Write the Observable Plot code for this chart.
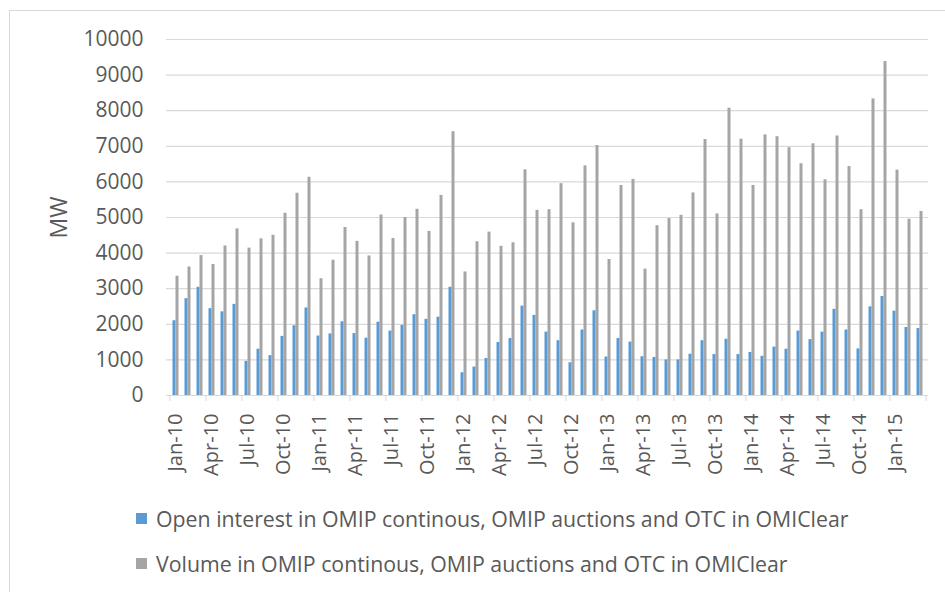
<!DOCTYPE html>
<html><head><meta charset="utf-8">
<script src="https://cdn.jsdelivr.net/npm/d3@7"></script>
<script src="https://cdn.jsdelivr.net/npm/@observablehq/plot@0.6"></script>
<style>
html,body{margin:0;padding:0;background:#fff;overflow:hidden;width:945px;height:592px;}
#frame{position:absolute;left:9px;top:10px;width:960px;height:620px;border:1px solid #d9d9d9;box-sizing:border-box}
#chart{position:absolute;left:0;top:0}
#legend{position:absolute;left:136px;top:496px;font-family:"Open Sans",sans-serif;font-size:21.3px;color:#595959}
.item{display:flex;align-items:center;height:45px;white-space:nowrap}
.sw{width:11px;height:11px;margin-right:9px;flex:none}
</style></head>
<body><div id="frame"></div><div id="chart"></div><div id="legend"></div>
<script>
const months = [
 "Jan-10","Feb-10","Mar-10","Apr-10","May-10","Jun-10","Jul-10","Aug-10","Sep-10","Oct-10","Nov-10","Dec-10",
 "Jan-11","Feb-11","Mar-11","Apr-11","May-11","Jun-11","Jul-11","Aug-11","Sep-11","Oct-11","Nov-11","Dec-11",
 "Jan-12","Feb-12","Mar-12","Apr-12","May-12","Jun-12","Jul-12","Aug-12","Sep-12","Oct-12","Nov-12","Dec-12",
 "Jan-13","Feb-13","Mar-13","Apr-13","May-13","Jun-13","Jul-13","Aug-13","Sep-13","Oct-13","Nov-13","Dec-13",
 "Jan-14","Feb-14","Mar-14","Apr-14","May-14","Jun-14","Jul-14","Aug-14","Sep-14","Oct-14","Nov-14","Dec-14",
 "Jan-15","Feb-15","Mar-15"];
const openInterest = [
 2100,2720,3040,2440,2350,2560,960,1300,1120,1660,1960,2460,
 1670,1730,2070,1740,1610,2060,1810,1970,2270,2140,2200,3040,
 640,800,1040,1490,1600,2510,2250,1780,1540,920,1840,2380,
 1080,1600,1500,1090,1070,1000,1000,1160,1540,1150,1580,1150,
 1210,1100,1360,1300,1810,1570,1780,2420,1840,1310,2490,2780,
 2370,1910,1880];
const volume = [
 3350,3610,3930,3680,4200,4680,4140,4400,4500,5120,5680,6130,
 3280,3800,4720,4330,3920,5070,4410,5000,5230,4610,5620,7410,
 3470,4320,4590,4190,4290,6340,5200,5220,5950,4850,6450,7020,
 3820,5900,6070,3550,4770,4970,5060,5690,7190,5100,8070,7200,
 5900,7320,7270,6960,6510,7070,6060,7290,6430,5220,8330,9380,
 6330,4950,5170];
const xTickLabels = ["Jan-10","Apr-10","Jul-10","Oct-10","Jan-11","Apr-11","Jul-11","Oct-11",
 "Jan-12","Apr-12","Jul-12","Oct-12","Jan-13","Apr-13","Jul-13","Oct-13",
 "Jan-14","Apr-14","Jul-14","Oct-14","Jan-15"];
const yTicks = [0,1000,2000,3000,4000,5000,6000,7000,8000,9000,10000];
const seriesNames = ["Open interest in OMIP continous, OMIP auctions and OTC in OMIClear",
 "Volume in OMIP continous, OMIP auctions and OTC in OMIClear"];
const seriesColors = ["#5B9BD5","#A5A5A5"];
const axisLabel = "MW";

const rows = months.map((m,i)=>({month:m, open:openInterest[i], volume:volume[i]}));
const W = 945, mL = 166, mR = 17;
const half = (W - mL - mR) / months.length / 2;

const chart = Plot.plot({
  width: W, height: 480,
  marginLeft: mL, marginRight: mR, marginTop: 39, marginBottom: 85,
  style: {fontFamily: "'Open Sans', sans-serif", fontSize: "20px", color: "#595959", background: "transparent", overflow: "visible"},
  x: {domain: months, paddingInner: 0.752, paddingOuter: 0.376, axis: null, label: null},
  y: {domain: [0, 10000], axis: null, label: null},
  marks: [
    Plot.gridY(yTicks, {stroke: "#d9d9d9", strokeOpacity: 1, strokeWidth: 1.2}),
    Plot.axisY(yTicks, {tickSize: 0, tickPadding: 23, tickFormat: d => String(d), fill: "#595959", fontSize: 21, label: null}),
    Plot.barY(rows, {x: "month", y: "open", fill: seriesColors[0], dx: -1.5}),
    Plot.barY(rows, {x: "month", y: "volume", fill: seriesColors[1], dx: 1.5}),
    Plot.ruleY([0], {stroke: "#d9d9d9", strokeWidth: 1.2}),
    Plot.axisX(xTickLabels, {tickSize: 6, tickFormat: () => "", stroke: "#d9d9d9", dx: -half, label: null}),
    Plot.axisX([months[months.length-1]], {tickSize: 6, tickFormat: () => "", stroke: "#d9d9d9", dx: half, label: null}),
    Plot.text(xTickLabels, {x: d => d, frameAnchor: "bottom", dy: 18, rotate: -90, textAnchor: "end", lineAnchor: "middle", fontSize: 20, fill: "#595959"}),
    Plot.text([axisLabel], {frameAnchor: "left", dx: -107, rotate: -90, textAnchor: "middle", lineAnchor: "middle", fontSize: 23, fill: "#595959"})
  ]
});
document.getElementById("chart").appendChild(chart);

const lg = document.getElementById("legend");
seriesNames.forEach((n,i)=>{
  const it = document.createElement("div"); it.className = "item";
  const sw = document.createElement("span"); sw.className = "sw"; sw.style.background = seriesColors[i];
  const tx = document.createElement("span"); tx.textContent = n;
  it.appendChild(sw); it.appendChild(tx); lg.appendChild(it);
});
</script>
</body></html>
